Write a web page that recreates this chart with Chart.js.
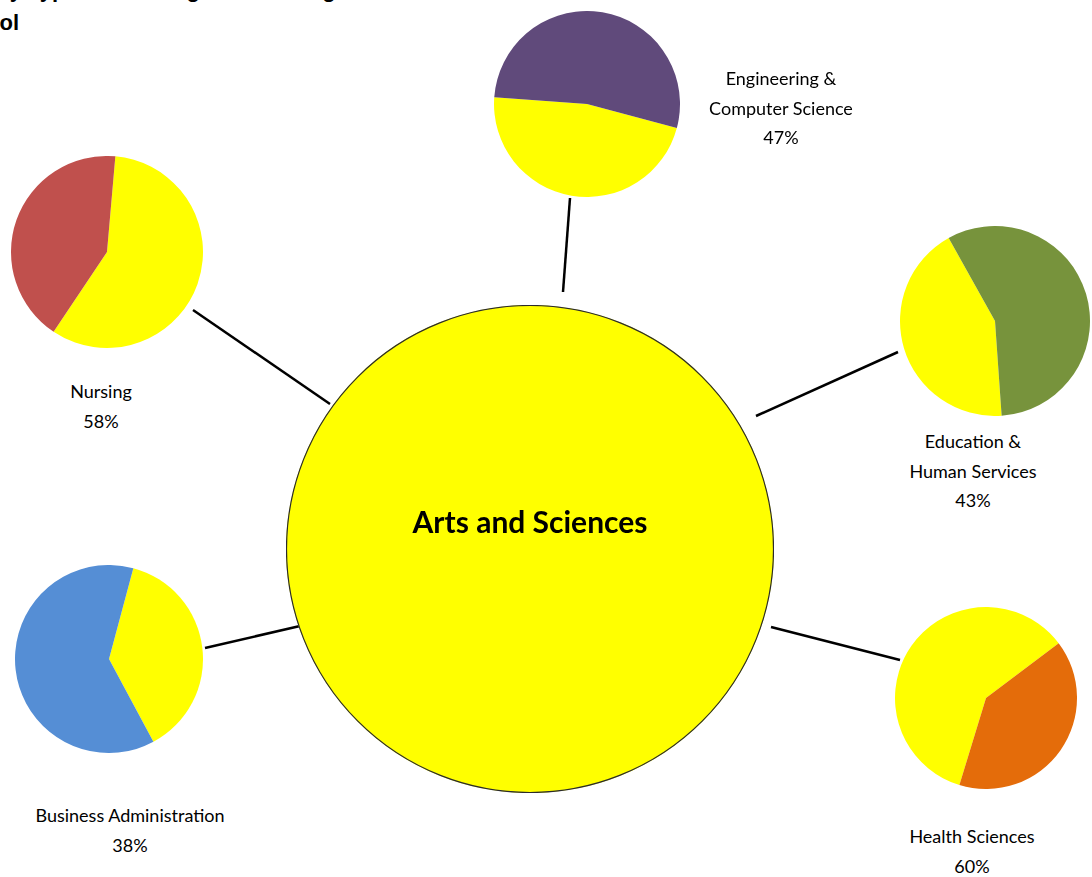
<!DOCTYPE html>
<html lang="en">
<head>
  <meta charset="UTF-8">
  <title>Arts and Sciences share by school</title>
  <script src="https://cdn.jsdelivr.net/npm/chart.js"></script>
  <style>
    html, body { margin: 0; padding: 0; background: #fff; }
    #stage { position: relative; width: 1092px; height: 877px; overflow: hidden; }
    #links { position: absolute; left: 0; top: 0; }
    canvas { position: absolute; }
    .title { position: absolute; font: bold 22px "Liberation Sans", Arial, sans-serif; line-height: 28px; white-space: nowrap; color: #000; }
    .title .pre { position: absolute; right: 100%; white-space: pre; }
    .label { position: absolute; width: 260px; text-align: center; font: 18px Lato, "Open Sans", sans-serif; line-height: 29.5px; color: #000; }
    .hub { position: absolute; width: 400px; text-align: center; font: bold 30px Lato, "Open Sans", sans-serif; color: #000; }
  </style>
</head>
<body>
  <div id="stage">
    <svg id="links" width="1092" height="877"></svg>
    <div class="title" style="left:28px; top:-24px;"><span class="pre">Share of Students in Arts and Sciences by </span>Types of Undergraduate Programs</div>
    <div class="title" style="right:1073px; top:9px;">in Each School</div>
  </div>

  <script>
    // data
    const hubName = 'Arts and Sciences';
    const schools = [
      ['Engineering &', 'Computer Science'],
      ['Nursing'],
      ['Education &', 'Human Services'],
      ['Business Administration'],
      ['Health Sciences']
    ];
    const artsShare = [47, 58, 43, 38, 60];
    const otherShare = [53, 42, 57, 62, 40];

    // styling / placement
    const hubColor = '#FFFF00';
    const schoolColors = ['#604A7B', '#C0504D', '#77933C', '#558ED5', '#E46C0A'];
    const hub = { cx: 530, cy: 549, r: 243, textY: 523 };
    const pies = [
      { cx: 587, cy: 104, r: 93, rotation: 105, lx: 781, ly: 64 },
      { cx: 107, cy: 252, r: 96, rotation: 5, lx: 101, ly: 377 },
      { cx: 995, cy: 321, r: 95, rotation: 176, lx: 973, ly: 427 },
      { cx: 109, cy: 659, r: 94, rotation: 15, lx: 130, ly: 801 },
      { cx: 986, cy: 698, r: 91, rotation: 197, lx: 972, ly: 822 }
    ];
    const links = [
      [570, 198, 563, 292],
      [193, 310, 330, 404],
      [898, 352, 756, 416],
      [205, 648, 300, 626],
      [900, 660, 771, 627]
    ];

    const stage = document.getElementById('stage');
    const svg = document.getElementById('links');

    links.forEach(l => {
      const line = document.createElementNS('http://www.w3.org/2000/svg', 'line');
      line.setAttribute('x1', l[0]);
      line.setAttribute('y1', l[1]);
      line.setAttribute('x2', l[2]);
      line.setAttribute('y2', l[3]);
      line.setAttribute('stroke', '#000');
      line.setAttribute('stroke-width', '2.5');
      svg.appendChild(line);
    });

    // outline round the hub without the radius seam a single slice gets
    const ringOutline = {
      id: 'ringOutline',
      afterDatasetsDraw(chart) {
        const arc = chart.getDatasetMeta(0).data[0];
        const ctx = chart.ctx;
        ctx.save();
        ctx.beginPath();
        ctx.arc(arc.x, arc.y, arc.outerRadius - 0.5, 0, Math.PI * 2);
        ctx.strokeStyle = '#2b2b2b';
        ctx.lineWidth = 1.2;
        ctx.stroke();
        ctx.restore();
      }
    };

    function makePie(cx, cy, size, cfg) {
      const c = document.createElement('canvas');
      c.width = size;
      c.height = size;
      c.style.left = (cx - size / 2) + 'px';
      c.style.top = (cy - size / 2) + 'px';
      c.style.width = size + 'px';
      c.style.height = size + 'px';
      stage.appendChild(c);
      return new Chart(c.getContext('2d'), cfg);
    }

    const baseOptions = {
      responsive: false,
      animation: false,
      layout: { padding: 0 },
      plugins: { legend: { display: false }, tooltip: { enabled: false } }
    };

    // the big hub circle
    makePie(hub.cx, hub.cy, hub.r * 2 + 2, {
      type: 'pie',
      data: {
        labels: [hubName],
        datasets: [{ data: [100], backgroundColor: [hubColor], borderWidth: 0 }]
      },
      options: baseOptions,
      plugins: [ringOutline]
    });

    const hubText = document.createElement('div');
    hubText.className = 'hub';
    hubText.textContent = hubName;
    hubText.style.left = (hub.cx - 200) + 'px';
    hubText.style.top = (hub.textY - 20) + 'px';
    stage.appendChild(hubText);

    schools.forEach((name, i) => {
      const p = pies[i];
      makePie(p.cx, p.cy, p.r * 2, {
        type: 'pie',
        data: {
          labels: [hubName, name.join(' ')],
          datasets: [{
            data: [artsShare[i], otherShare[i]],
            backgroundColor: [hubColor, schoolColors[i]],
            borderWidth: 0
          }]
        },
        options: Object.assign({}, baseOptions, { rotation: p.rotation })
      });

      const lab = document.createElement('div');
      lab.className = 'label';
      lab.style.left = (p.lx - 130) + 'px';
      lab.style.top = p.ly + 'px';
      name.concat([artsShare[i] + '%']).forEach(t => {
        const d = document.createElement('div');
        d.textContent = t;
        lab.appendChild(d);
      });
      stage.appendChild(lab);
    });
  </script>
</body>
</html>
